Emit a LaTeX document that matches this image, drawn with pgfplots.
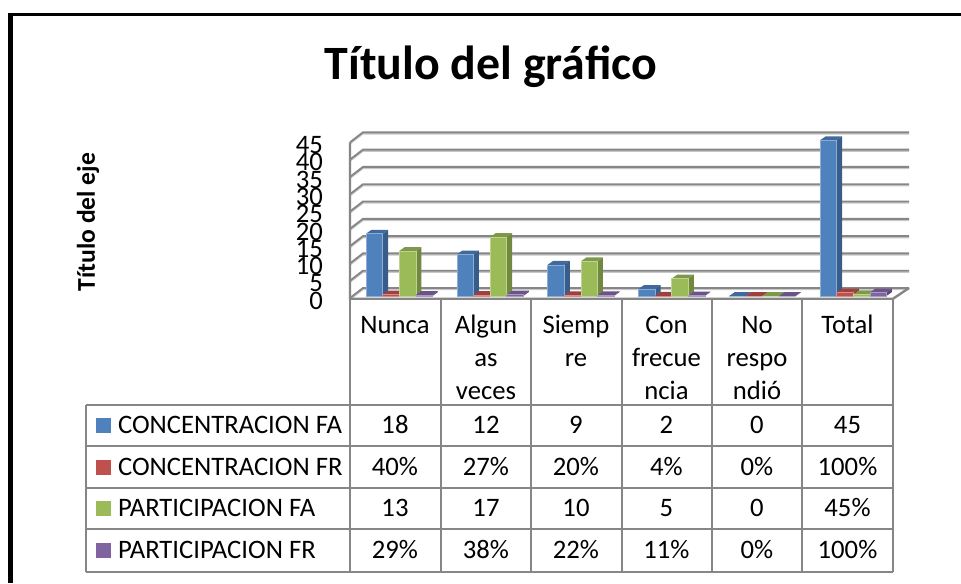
\documentclass[border=0pt]{standalone}
\usepackage{pgfplots}
\pgfplotsset{compat=1.18}
\usepackage{fontspec}
\setmainfont{Carlito}
\definecolor{cb}{HTML}{4F81BD}\definecolor{cbs}{HTML}{385D8A}\definecolor{cbt}{HTML}{41699B}
\definecolor{cr}{HTML}{C0504D}\definecolor{crs}{HTML}{8C3836}\definecolor{crt}{HTML}{9E403E}
\definecolor{cg}{HTML}{9BBB59}\definecolor{cgs}{HTML}{71893F}\definecolor{cgt}{HTML}{7F994A}
\definecolor{cp}{HTML}{8064A2}\definecolor{cps}{HTML}{5C4776}\definecolor{cpt}{HTML}{6A5387}
\definecolor{gl}{HTML}{868686}\definecolor{gs}{HTML}{C8C8C8}
% one bar: category, series position, value, three colours
\newcommand\threedbar[6]{%
  \pgfmathsetmacro\xa{(366+90.8*#1+16.6*#2-350)/90.5}%
  \pgfmathsetmacro\xb{\xa+16.6/90.5}%
  \pgfmathsetmacro\xc{\xb+5.6/90.5}%
  \pgfmathsetmacro\xd{\xa+5.6/90.5}%
  \pgfmathsetmacro\xm{\xa+8.3/90.5}%
  \pgfmathsetmacro\yt{#3+1.15}%
  \pgfmathsetmacro\eo{#3>=1?1:0}%
  \addplot[draw=none,fill=#5,forget plot] coordinates {(\xb,0) (\xc,1.15) (\xc,\yt) (\xb,#3)} --cycle;
  \addplot[draw=none,fill=#6,forget plot] coordinates {(\xa,#3) (\xd,\yt) (\xc,\yt) (\xb,#3)} --cycle;
  \addplot[ybar,bar width=12.45pt,bar shift=0pt,draw=#4!65!white,draw opacity=\eo,line width=0.4pt,fill=#4,forget plot] coordinates {(\xm,#3)};
}
\newcommand\wall[1]{%
  \pgfmathsetmacro\ya{#1-0.58}\pgfmathsetmacro\yb{#1+2.31}%
  \pgfmathsetmacro\yc{\yb-0.4}\pgfmathsetmacro\yd{\ya-0.4}%
  \addplot[gs,line width=1.2pt,forget plot] coordinates {(0,\yd) (0.1436,\yc) (6.177,\yc)};
  \addplot[gl,line width=1.4pt,forget plot] coordinates {(0,\ya) (0.1436,\yb) (6.177,\yb)};
}
\begin{document}
\begin{tikzpicture}[x=0.75pt,y=-0.75pt,every node/.style={inner sep=0pt,outer sep=0pt}]
\useasboundingbox (0,0) rectangle (961,583);
\fill[white] (0,0) rectangle (961,583);
\fill[black] (7.5,13) rectangle (961,16);
\fill[black] (7.5,13) rectangle (12.7,583);
\begin{axis}[
  at={(262.5pt,-223.5pt)},anchor=south west,scale only axis,
  width=419.25pt,height=123.45pt,
  xmin=0,xmax=6.177,ymin=-0.58,ymax=47,
  axis lines=none,clip=false,
  ytick={0,5,...,45},xtick=\empty,
  ]
\wall{0}\wall{5}\wall{10}\wall{15}\wall{20}\wall{25}\wall{30}\wall{35}\wall{40}\wall{45}
\addplot[gl,line width=1.8pt,forget plot] coordinates {(0,44.42) (0,-0.8) (6,-0.8) (6.177,2.31)};
% Nunca
\threedbar{0}{0}{18}{cb}{cbs}{cbt}\threedbar{0}{1}{0.40}{cr}{crs}{crt}\threedbar{0}{2}{13}{cg}{cgs}{cgt}\threedbar{0}{3}{0.29}{cp}{cps}{cpt}
% Algunas veces
\threedbar{1}{0}{12}{cb}{cbs}{cbt}\threedbar{1}{1}{0.27}{cr}{crs}{crt}\threedbar{1}{2}{17}{cg}{cgs}{cgt}\threedbar{1}{3}{0.38}{cp}{cps}{cpt}
% Siempre
\threedbar{2}{0}{9}{cb}{cbs}{cbt}\threedbar{2}{1}{0.20}{cr}{crs}{crt}\threedbar{2}{2}{10}{cg}{cgs}{cgt}\threedbar{2}{3}{0.22}{cp}{cps}{cpt}
% Con frecuencia
\threedbar{3}{0}{2}{cb}{cbs}{cbt}\threedbar{3}{1}{0.04}{cr}{crs}{crt}\threedbar{3}{2}{5}{cg}{cgs}{cgt}\threedbar{3}{3}{0.11}{cp}{cps}{cpt}
% No respondio
\threedbar{4}{0}{0}{cb}{cbs}{cbt}\threedbar{4}{1}{0}{cr}{crs}{crt}\threedbar{4}{2}{0}{cg}{cgs}{cgt}\threedbar{4}{3}{0}{cp}{cps}{cpt}
% Total
\threedbar{5}{0}{45}{cb}{cbs}{cbt}\threedbar{5}{1}{1.00}{cr}{crs}{crt}\threedbar{5}{2}{0.45}{cg}{cgs}{cgt}\threedbar{5}{3}{1.00}{cp}{cps}{cpt}
% tick numbers, through the axis
\pgfplotsinvokeforeach{0,5,10,15,20,25,30,35,40,45}{
  \node[anchor=east,font=\fontsize{20pt}{20pt}\selectfont] at (axis cs:0,#1) [xshift=-20.25pt,yshift=-3.5pt] {#1};
}
\end{axis}
% table
\begin{scope}[gl,line width=1.5pt]
\foreach \yy in {405,446,488,529,571.5}{\draw (86,\yy) -- (892.7,\yy);}
\draw (86,405) -- (86,571.5);
\foreach \xx in {349.5,440.5,531,621.5,711.7,802,892.7}{\draw (\xx,298) -- (\xx,571.5);}
\end{scope}
\node[font=\bfseries\fontsize{35.9pt}{35.9pt}\selectfont] at (491,67) {Título del gráfico};
\node[font=\bfseries\fontsize{19.2pt}{19.2pt}\selectfont,rotate=90] at (88,222) {Título del eje};
\def\fs{\fontsize{20pt}{20pt}\selectfont}
\foreach \cx/\yy/\tt in {395/328/Nunca,
  486/328/Algun,486/361/as,486/394/veces,
  576/328/Siemp,576/361/re,
  666.5/328/Con,666.5/361/frecue,666.5/394/ncia,
  757/328/No,757/361/respo,757/394/ndió,
  847.5/328/Total}{\node[font=\fs] at (\cx,\yy) {\strut\tt};}
\foreach \yy/\col/\tt in {425/cb/CONCENTRACION FA,467/cr/CONCENTRACION FR,508/cg/PARTICIPACION FA,550/cp/PARTICIPACION FR}{
  \fill[\col] (96,\yy-7.5) rectangle (111,\yy+7.5);
  \node[anchor=west,font=\fs] at (118,\yy+3) {\strut\tt};
}
\foreach \yy/\a/\b/\c/\d/\e/\f in {
  428/18/12/9/2/0/45,
  470/40\%/27\%/20\%/4\%/0\%/100\%,
  511/13/17/10/5/0/45\%,
  553/29\%/38\%/22\%/11\%/0\%/100\%}{
  \node[font=\fs] at (395,\yy) {\strut\a};
  \node[font=\fs] at (486,\yy) {\strut\b};
  \node[font=\fs] at (576,\yy) {\strut\c};
  \node[font=\fs] at (666.5,\yy) {\strut\d};
  \node[font=\fs] at (757,\yy) {\strut\e};
  \node[font=\fs] at (847.5,\yy) {\strut\f};
}
\end{tikzpicture}
\end{document}
